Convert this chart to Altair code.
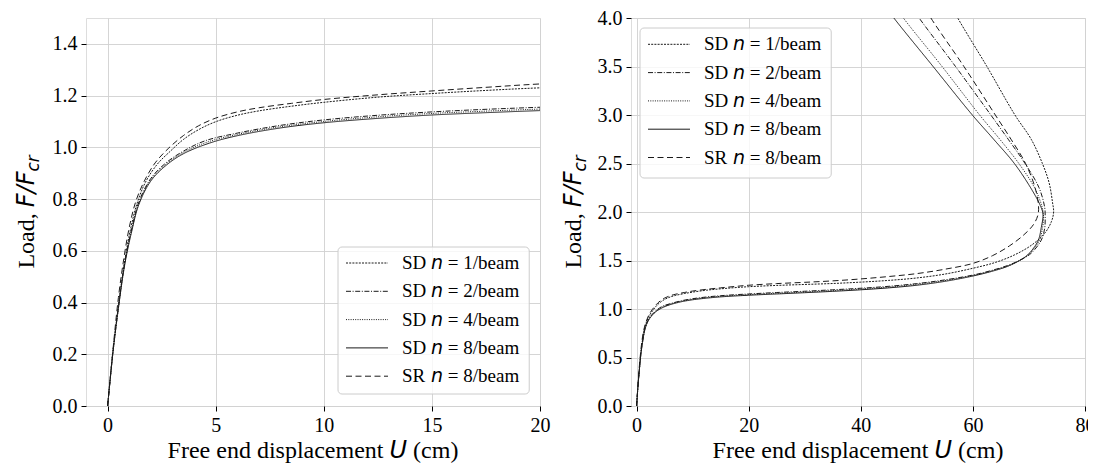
import altair as alt
import pandas as pd

# ---------------- data ----------------
series_keys = ["sd1", "sd2", "sd4", "sd8", "sr8"]
series_prefix = ["SD", "SD", "SD", "SD", "SR"]
series_rest = ["= 1/beam", "= 2/beam", "= 4/beam", "= 8/beam", "= 8/beam"]

sd1_u = [0, 0.25, 0.55, 0.8, 1.05, 1.35, 1.75, 2.3, 2.9, 3.5, 4.2, 5.0, 6.0, 7.0, 8.5, 10, 12.5, 15,
         17.5, 20, 25, 30, 35, 40, 45, 50, 55, 60, 64, 67.5, 70.5, 72.8, 74.0, 74.4, 74.2, 73.6, 72.4,
         70.4, 67.5, 62.5, 57.3, 55.5]
sd1_f = [0, 0.215, 0.42, 0.565, 0.68, 0.78, 0.865, 0.935, 0.985, 1.03, 1.068, 1.099, 1.124, 1.141,
         1.159, 1.174, 1.194, 1.208, 1.22, 1.23, 1.243, 1.253, 1.263, 1.277, 1.295, 1.32, 1.36, 1.42,
         1.48, 1.56, 1.66, 1.78, 1.90, 2.0, 2.1, 2.3, 2.5, 2.75, 3.0, 3.5, 4.0, 4.2]

sd2_u = [0, 0.25, 0.55, 0.8, 1.1, 1.45, 2.0, 2.7, 3.5, 4.5, 6, 8, 10, 12.5, 15, 17.5, 20,
         25, 30, 35, 40, 45, 50, 55, 60, 63.5, 66.5, 68.8, 70.4, 72.2, 72.8, 72.9, 72.8, 71.8, 69.3,
         66.3, 63.2, 56.9, 50.4, 48.6]
sd2_f = [0, 0.21, 0.415, 0.56, 0.68, 0.79, 0.88, 0.94, 0.985, 1.025, 1.055, 1.085, 1.106, 1.124, 1.137,
         1.147, 1.155, 1.17, 1.183, 1.198, 1.214, 1.234, 1.262, 1.30, 1.35, 1.40, 1.455, 1.515, 1.575,
         1.71, 1.83, 1.95, 2.05, 2.25, 2.5, 2.75, 3.0, 3.5, 4.0, 4.15]

sd4_u = [0, 0.25, 0.55, 0.8, 1.1, 1.45, 2.0, 2.7, 3.5, 4.6, 6, 8, 10, 12.5, 15, 17.5, 20,
         25, 30, 35, 40, 45, 50, 55, 60, 63.5, 66.3, 68.5, 70.0, 71.8, 72.4, 72.6, 72.3, 71.0, 68.2,
         64.8, 61.2, 54.5, 47.6, 45.8]
sd4_f = [0, 0.21, 0.41, 0.555, 0.675, 0.785, 0.875, 0.935, 0.98, 1.02, 1.05, 1.08, 1.10, 1.118, 1.131,
         1.140, 1.148, 1.162, 1.175, 1.19, 1.206, 1.226, 1.254, 1.293, 1.345, 1.395, 1.445, 1.505, 1.565,
         1.70, 1.83, 1.96, 2.06, 2.25, 2.5, 2.75, 3.0, 3.5, 4.0, 4.15]

sd8_u = [0, 0.25, 0.55, 0.8, 1.1, 1.45, 2.0, 2.7, 3.5, 4.7, 6, 8, 10, 12.5, 15, 17.5, 20,
         25, 30, 35, 40, 45, 50, 55, 60, 63.5, 66.2, 68.3, 69.8, 71.6, 72.2, 72.5, 72.0, 70.3, 67.4,
         63.7, 59.9, 52.9, 45.9, 44.0]
sd8_f = [0, 0.21, 0.41, 0.55, 0.67, 0.78, 0.87, 0.93, 0.975, 1.016, 1.045, 1.075, 1.095, 1.112, 1.125,
         1.134, 1.142, 1.155, 1.168, 1.182, 1.198, 1.218, 1.245, 1.285, 1.34, 1.39, 1.44, 1.50, 1.56,
         1.70, 1.84, 1.98, 2.07, 2.25, 2.5, 2.75, 3.0, 3.5, 4.0, 4.15]

sr8_u = [0, 0.25, 0.5, 0.75, 1.0, 1.3, 1.7, 2.2, 2.8, 3.5, 4.2, 5.0, 6.0, 7.0, 8.5, 10, 12.5, 15, 17.5,
         20, 25, 30, 35, 40, 45, 50, 55, 60, 63.5, 66.5, 69.0, 70.8, 71.6, 71.7, 71.1, 69.4, 66.8, 64.0,
         58.4, 52.5, 51.0]
sr8_f = [0, 0.22, 0.42, 0.57, 0.69, 0.79, 0.87, 0.94, 0.995, 1.045, 1.083, 1.113, 1.137, 1.153, 1.17,
         1.185, 1.203, 1.218, 1.232, 1.245, 1.262, 1.275, 1.29, 1.31, 1.335, 1.365, 1.41, 1.47, 1.55,
         1.65, 1.76, 1.87, 1.97, 2.07, 2.25, 2.5, 2.75, 3.0, 3.5, 4.0, 4.15]

left_xticks = [0, 5, 10, 15, 20]
left_yticks = [0.0, 0.2, 0.4, 0.6, 0.8, 1.0, 1.2, 1.4]
right_xticks = [0, 20, 40, 60, 80]
right_yticks = [0.0, 0.5, 1.0, 1.5, 2.0, 2.5, 3.0, 3.5, 4.0]

# ---------------- styling ----------------
series_dash = [[2, 1.2], [5, 1.6, 1, 1.6], [1, 1.3], [1, 0], [6, 3.5]]
SERIF = "Liberation Serif"
MATH = "DejaVu Sans"
W, H = 454, 388
TICK_FS = 20
TITLE_FS = 24
LEG_FS = 19
INK = "#1a1a1a"

rows = []
for key, us, fs in zip(series_keys, [sd1_u, sd2_u, sd4_u, sd8_u, sr8_u],
                       [sd1_f, sd2_f, sd4_f, sd8_f, sr8_f]):
    for i, (u, f) in enumerate(zip(us, fs)):
        rows.append({"key": key, "U": u, "F": f, "idx": i})
df = pd.DataFrame(rows)
leg_df = pd.DataFrame({"key": series_keys, "prefix": series_prefix,
                       "rest": series_rest, "row": list(range(len(series_keys)))})
one = pd.DataFrame({"v": [0]})

dash_scale = alt.Scale(domain=series_keys, range=series_dash)


def axis(values, fmt=None):
    kw = dict(values=values, title=None, grid=True, gridColor="#d0d0d0", gridWidth=0.9,
              domain=False, ticks=True, tickColor="#000", tickSize=5, tickWidth=1,
              labelFont=SERIF, labelFontSize=TICK_FS, labelColor="#000", labelPadding=4,
              labelFlush=False)
    if fmt:
        kw["format"] = fmt
    return alt.Axis(**kw)


def txt(s, x, y, font=SERIF, size=TITLE_FS, style="normal", angle=0, baseline="alphabetic"):
    return alt.Chart(one).mark_text(
        text=s, font=font, fontSize=size, fontStyle=style, angle=angle,
        align="left", baseline=baseline, color="#000"
    ).encode(x=alt.value(x), y=alt.value(y))


def y_title(xb):
    fs = TITLE_FS
    w_load = 2.555 * fs
    w_ff = 1.487 * fs
    w_cr = 0.961 * fs * 0.7
    total = w_load + w_ff + w_cr
    y0 = H / 2 + total / 2
    return [
        txt("Load,", xb, y0, angle=270),
        txt("F/F", xb, y0 - w_load, font=MATH, style="italic", angle=270),
        txt("cr", xb + 5, y0 - w_load - w_ff, font=MATH, style="italic",
            size=fs * 0.7, angle=270),
    ]


def x_title(yb):
    fs = TITLE_FS
    w1 = 8.998 * fs
    sp = 0.25 * fs
    wu = 0.732 * fs
    w3 = 1.888 * fs
    total = w1 + sp + wu + sp + w3
    x0 = W / 2 - total / 2
    return [
        txt("Free end displacement", x0, yb),
        txt("U", x0 + w1 + sp, yb, font=MATH, style="italic"),
        txt("(cm)", x0 + w1 + sp + wu + sp, yb),
    ]


def legend(bx0, by0, by1, lx0, ry0, dy):
    fs = LEG_FS
    tx = lx0 + 42 + 14
    w_pre = 1.278 * fs + 0.25 * fs
    w_n = 0.634 * fs + 0.25 * fs
    bx1 = tx + w_pre + w_n + 3.758 * fs + 10
    base = alt.Chart(leg_df).transform_calculate(py=f"{ry0} + datum.row * {dy}")
    yenc = alt.Y("py:Q", scale=None)
    box = alt.Chart(one).mark_rect(
        fill="white", fillOpacity=0.8, stroke="#cccccc", strokeWidth=1, cornerRadius=4
    ).encode(x=alt.value(bx0), x2=alt.value(bx1), y=alt.value(by0), y2=alt.value(by1))
    lines = base.mark_rule(strokeWidth=1, color=INK).encode(
        x=alt.value(lx0), x2=alt.value(lx0 + 42), y=yenc,
        strokeDash=alt.StrokeDash("key:N", scale=dash_scale, legend=None))
    tkw = dict(fontSize=fs, align="left", baseline="middle", color="#000")
    t1 = base.mark_text(font=SERIF, **tkw).encode(x=alt.value(tx), y=yenc, text="prefix:N")
    t2 = base.mark_text(font=MATH, fontStyle="italic", text="n", **tkw).encode(
        x=alt.value(tx + w_pre), y=yenc)
    t3 = base.mark_text(font=SERIF, **tkw).encode(
        x=alt.value(tx + w_pre + w_n), y=yenc, text="rest:N")
    return [box, lines, t1, t2, t3]


def panel(xdom, xticks, ydom, yticks, ytitle_x, leg):
    lines = alt.Chart(df).mark_line(clip=True, strokeWidth=1, color=INK,
                                    interpolate="catmull-rom").encode(
        x=alt.X("U:Q", scale=alt.Scale(domain=xdom, nice=False, zero=False), axis=axis(xticks)),
        y=alt.Y("F:Q", scale=alt.Scale(domain=ydom, nice=False, zero=False),
                axis=axis(yticks, ".1f")),
        strokeDash=alt.StrokeDash("key:N", scale=dash_scale, legend=None),
        order=alt.Order("idx:Q"),
    )
    layers = [lines] + leg + y_title(ytitle_x) + x_title(H + 52)
    return alt.layer(*layers).properties(width=W, height=H)


left = panel([-1, 20], left_xticks, [0, 1.5], left_yticks, -52,
             legend(252, 229, 376, 260, 245, 28.3))
right = panel([-1, 80], right_xticks, [0, 4.0], right_yticks, -50,
              legend(9, 10, 160, 17, 26.3, 28.3))

chart = alt.hconcat(left, right, spacing=91, bounds="flush").properties(
    padding={"left": 6, "top": -1, "right": -8, "bottom": 0}
).configure_view(
    stroke="#000", strokeWidth=1.2
).configure_axis(
    labelFont=SERIF, titleFont=SERIF
).configure(background="white", font=SERIF)

chart.save("out.html", embed_options={"renderer": "svg", "actions": False})
